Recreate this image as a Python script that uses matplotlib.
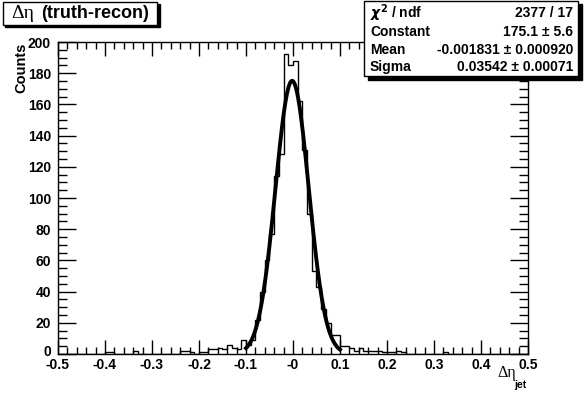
import matplotlib as mpl
mpl.use('Agg')
import matplotlib.pyplot as plt
import matplotlib.transforms as mtransforms
from matplotlib.patches import Rectangle
import numpy as np

plt.rcParams['font.family'] = ['Liberation Sans', 'DejaVu Sans']
plt.rcParams['font.weight'] = 'bold'

# ----------------------------------------------------------------------
# --- data

x_lo, x_hi, nbins = -0.5, 0.5, 100

counts = [0, 0, 0, 0, 0, 0, 0, 0, 0, 0,          # -0.50 .. -0.41
          1, 1, 0, 0, 0, 0, 2, 0, 0, 0,          # -0.40 .. -0.31
          0, 0, 0, 0, 0, 0, 2, 2, 1, 0,          # -0.30 .. -0.21
          1, 1, 3, 3, 4, 3, 6, 4, 3, 9,          # -0.20 .. -0.11
          6, 9, 22, 40, 60, 77, 114, 128, 192, 185,   # -0.10 .. -0.01
          188, 162, 131, 90, 53, 43, 29, 20, 12, 12,  # 0.00 .. 0.09
          5, 5, 4, 2, 4, 2, 2, 2, 2, 1,          # 0.10 .. 0.19
          1, 1, 2, 1, 0, 0, 0, 0, 0, 0,          # 0.20 .. 0.29
          0, 0, 1, 0, 0, 0, 0, 0, 0, 0,          # 0.30 .. 0.39
          0, 0, 0, 0, 0, 0, 0, 0, 0, 0]          # 0.40 .. 0.49

# --- gaussian fit result (from the stats box)
fit_const, fit_mean, fit_sigma = 175.1, -0.001831, 0.03542
fit_range = [-0.1, 0.1]

stats_names = [r'$\chi^{2}$ / ndf', 'Constant', 'Mean', 'Sigma']
stats_values = ['2377 / 17', '175.1 ± 5.6', '-0.001831 ± 0.000920', '0.03542 ± 0.00071']

xticks = np.arange(-0.5, 0.51, 0.1)
xticklabels = ['-0.5', '-0.4', '-0.3', '-0.2', '-0.1', '-0', '0.1', '0.2', '0.3', '0.4', '0.5']
yticks = np.arange(0, 201, 20)

# ----------------------------------------------------------------------
# --- figure

W, H = 587, 394
fig = plt.figure(figsize=(W / 100, H / 100), dpi=100)

def fx(px):
    return px / W

def fy(py):
    return 1 - py / H

ax = fig.add_axes([fx(58), fy(354), fx(528) - fx(58), fy(42) - fy(354)])

edges = np.linspace(x_lo, x_hi, nbins + 1)
ax.stairs(counts, edges, color='k', lw=1.0)

xf = np.linspace(fit_range[0], fit_range[1], 400)
yf = fit_const * np.exp(-0.5 * ((xf - fit_mean) / fit_sigma) ** 2)
ax.plot(xf, yf, color='k', lw=2.8)

ax.set_xlim(x_lo, x_hi)
ax.set_ylim(0, 200)

ax.set_xticks(xticks)
ax.set_xticklabels(xticklabels)
ax.set_xticks(np.arange(-0.5, 0.501, 0.02), minor=True)
ax.set_yticks(yticks)
ax.set_yticks(np.arange(0, 201, 5), minor=True)

ax.tick_params(which='both', direction='in', top=True, right=True, width=1, color='k')
ax.tick_params(axis='x', which='major', length=10, pad=3, labelsize=10)
ax.tick_params(axis='x', which='minor', length=5)
ax.tick_params(axis='y', which='major', length=13, pad=5, labelsize=10)
ax.tick_params(axis='y', which='minor', length=6.5)
ax.tick_params(labeltop=False, labelright=False)
for lab in ax.get_xticklabels() + ax.get_yticklabels():
    lab.set_fontweight('bold')
for s in ax.spines.values():
    s.set_linewidth(1)

# nudge the "0" y label up a little, as ROOT does
zero_lab = ax.get_yticklabels()[0]
zero_lab.set_transform(zero_lab.get_transform() +
                       mtransforms.ScaledTranslation(0, 3 / 100, fig.dpi_scale_trans))

# --- axis titles
fig.text(fx(21), fy(43), 'Counts', rotation=90, ha='center', va='top', fontsize=10.5, fontweight='bold')
fig.text(fx(507), fy(373), 'Δη', ha='center', va='center', fontsize=11.5,
         family=['Liberation Serif', 'DejaVu Serif'], fontweight='normal')
fig.text(fx(520), fy(385), 'jet', ha='center', va='center', fontsize=7.5, fontweight='bold')

# --- title box
fig.patches.append(Rectangle((fx(5), fy(27)), fx(160) - fx(5), fy(4) - fy(27),
                             transform=fig.transFigure, facecolor='k', edgecolor='k', lw=1))
fig.patches.append(Rectangle((fx(3), fy(25)), fx(157) - fx(3), fy(2) - fy(25),
                             transform=fig.transFigure, facecolor='white', edgecolor='k', lw=1))
fig.text(fx(11), fy(14), 'Δη', ha='left', va='center', fontsize=14,
         family=['Liberation Serif', 'DejaVu Serif'], fontweight='normal')
fig.text(fx(41), fy(14), '(truth-recon)', ha='left', va='center', fontsize=13, fontweight='bold')

# --- stats box
fig.patches.append(Rectangle((fx(368), fy(80)), fx(582) - fx(368), fy(4) - fy(80),
                             transform=fig.transFigure, facecolor='k', edgecolor='k', lw=1))
fig.patches.append(Rectangle((fx(364), fy(76)), fx(578) - fx(364), fy(0.5) - fy(76),
                             transform=fig.transFigure, facecolor='white', edgecolor='k', lw=1))
rows = [13, 32, 50, 67]
for name, val, r in zip(stats_names, stats_values, rows):
    fig.text(fx(370), fy(r), name, ha='left', va='center', fontsize=10, fontweight='bold')
    fig.text(fx(573), fy(r), val, ha='right', va='center', fontsize=10, fontweight='bold')

fig.savefig('out.png', dpi=100)
